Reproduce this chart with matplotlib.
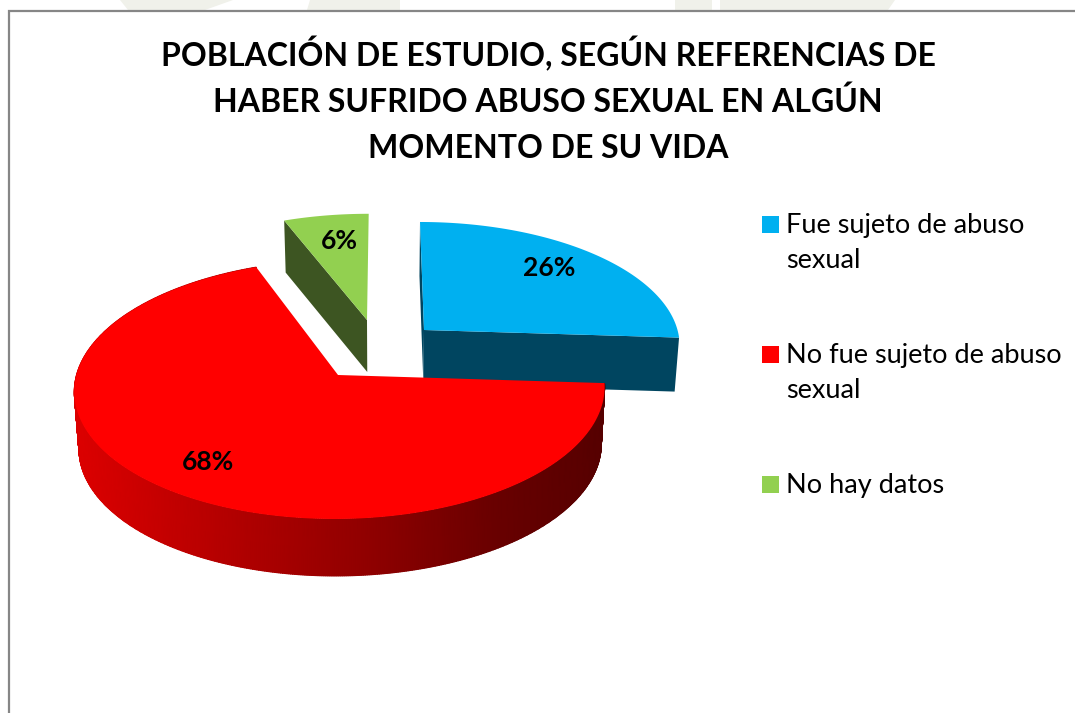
import numpy as np
import matplotlib
matplotlib.use("Agg")
import matplotlib.pyplot as plt
from matplotlib.colors import LinearSegmentedColormap
from matplotlib.patches import Polygon, Rectangle

title_lines = ["POBLACIÓN DE ESTUDIO, SEGÚN REFERENCIAS DE",
               "HABER SUFRIDO ABUSO SEXUAL EN ALGÚN",
               "MOMENTO DE SU VIDA"]
categories = ["Fue sujeto de abuso\nsexual", "No fue sujeto de abuso\nsexual", "No hay datos"]
values = [26, 68, 6]
labels = ["26%", "68%", "6%"]

FONT = "Lato"
plt.rcParams["font.family"] = [FONT, "DejaVu Sans"]

fig = plt.figure(figsize=(10.75, 7.13), dpi=100)
ax = fig.add_axes([0, 0, 1, 1])
ax.axis("off")

# faint background watermark at the top edge
for pts in ([(120, 0), (233, 0), (205, 10), (128, 10)],
            ((310, 0), (400, 0), (400, 10), (307, 10)),
            ((675, 0), (712, 0), (712, 10), (675, 10)),
            ((720, 0), (895, 0), (888, 10), (720, 10))):
    ax.add_patch(Polygon(pts, closed=True, fc="#f0f1ea", ec="none", zorder=0))
ax.plot([9, 9, 1075], [713, 10.5, 10.5], color="#868686", lw=1.6, zorder=1, solid_joinstyle="miter")

VX, K, Z_SCALE = 384.0, 0.111, 0.985
# slice: apex, rim centre x, apex y, x radius, y radius, depth, top colour, side colour
geometry = [
    dict(ax=424, cx=424, cy=330, rx=253.5, ry=120, dy=54, top="#00B0F0", side="#004560"),
    dict(ax=338, cx=340, cy=375, rx=263.5, ry=128, dy=57, top="#FF0000", side=None),
    dict(ax=367, cx=367, cy=320, rx=253, ry=118, dy=52, top="#92D050", side="#3D5522"),
]
wall_cmap = LinearSegmentedColormap.from_list(
    "wall", [(0, "#dc0000"), (0.28, "#b40000"), (0.55, "#900000"), (0.8, "#680000"), (1, "#560000")])


def rim(g, deg):
    a = np.radians(deg)
    u, v = np.cos(a), np.sin(a)
    w = 1 + K * v
    return VX + (g["cx"] - VX + g["rx"] * u) / w, g["cy"] - g["ry"] * v / w


def lower(g, x, y):
    return VX + (x - VX) * Z_SCALE, y + g["dy"]


start = 90.0
spans = []
for val in values:
    spans.append((start, start - val / sum(values) * 360))
    start = spans[-1][1]

blue, red, green = spans
gb, gr, gg = geometry


def top_face(g, span, z):
    t = np.linspace(span[0], span[1], 200)
    xs, ys = rim(g, t)
    pts = np.column_stack([np.r_[g["ax"], xs], np.r_[g["cy"], ys]])
    ax.add_patch(Polygon(pts, closed=True, fc=g["top"], ec="none", zorder=z))


def flat_side(g, deg, z):
    x, y = rim(g, deg)
    xb, yb = lower(g, x, y)
    ax0, ay0 = g["ax"], g["cy"]
    axb, ayb = lower(g, ax0, ay0)
    ax.add_patch(Polygon([(ax0, ay0), (x, y), (xb, yb), (axb, ayb)], closed=True,
                         fc=g["side"], ec="none", zorder=z))


# green slice
flat_side(gg, green[0], 2)
top_face(gg, green, 3)

# blue slice
flat_side(gb, blue[0], 4)
flat_side(gb, blue[1], 4)
top_face(gb, blue, 5)

# red slice: shaded outer wall, then the top
t = np.linspace(red[0], red[1], 600)
xt, yt = rim(gr, t)
xb, yb = lower(gr, xt, yt)
X = np.vstack([xt, xb])
Y = np.vstack([yt, yb])
ax.pcolormesh(X, Y, np.clip((X - 78) / (604 - 78), 0, 1), cmap=wall_cmap, vmin=0, vmax=1,
              shading="gouraud", zorder=6)
top_face(gr, red, 7)

ax.set_xlim(0, 1075)
ax.set_ylim(713, 0)

# data labels
for lab, (x, y) in zip(labels, [(549, 268), (208, 462), (339, 241)]):
    ax.text(x, y, lab, ha="center", va="center", fontsize=19, fontweight="bold", color="black", zorder=10)

# title
for line, y in zip(title_lines, [66, 112, 158]):
    ax.text(548, y, line, ha="center", va="baseline", fontsize=23, fontweight="bold", color="black", zorder=10)

# legend
leg_colors = [g["top"] for g in geometry]
for cat, col, ytop in zip(categories, leg_colors, [216, 346, 476]):
    ax.add_patch(Rectangle((762, ytop), 17, 17, fc=col, ec="none", zorder=10))
    for j, part in enumerate(cat.split("\n")):
        ax.text(786, ytop + 17 + 35 * j, part, ha="left", va="baseline", fontsize=19.5, color="black", zorder=10)

fig.savefig("out.png", dpi=100)
